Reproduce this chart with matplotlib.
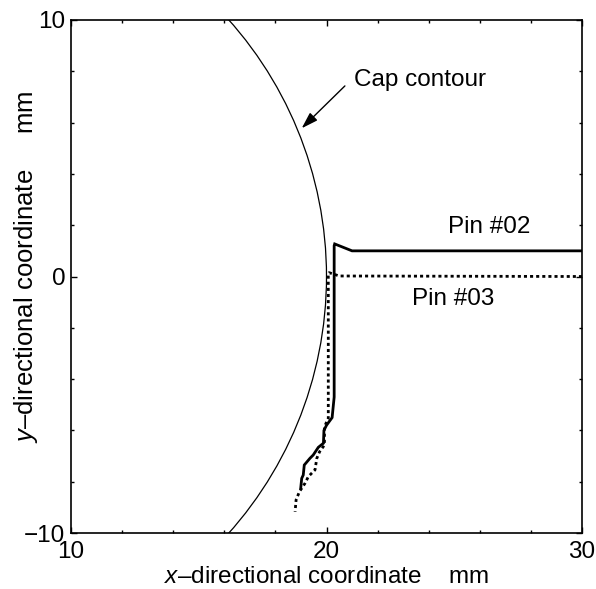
import numpy as np
import matplotlib
matplotlib.use('Agg')
from matplotlib import pyplot as plt
from matplotlib.patches import Circle
from matplotlib.ticker import MultipleLocator

plt.rcParams['font.family'] = 'Liberation Sans'
plt.rcParams['mathtext.fontset'] = 'custom'
plt.rcParams['mathtext.rm'] = 'Liberation Sans'
plt.rcParams['mathtext.it'] = 'Liberation Sans:italic'

# cap contour (circle)
cap_center = (5.0, 0.0)
cap_radius = 15.0

# pin #02 trajectory
pin02_x = [30.0, 21.0, 20.32, 20.3, 20.3, 20.22, 20.0, 19.9, 19.88, 19.68,
           19.48, 19.35, 19.13, 19.09, 19.03, 18.99]
pin02_y = [1.0, 1.0, 1.27, 1.2, -4.7, -5.5, -5.8, -6.0, -6.5, -6.66,
           -6.96, -7.09, -7.35, -7.74, -7.87, -8.26]

# pin #03 trajectory
pin03_x = [30.0, 20.5, 20.1, 20.07, 20.07, 20.01, 19.92, 19.92, 19.73, 19.62,
           19.55, 19.29, 19.16, 18.94, 18.81, 18.77]
pin03_y = [0.0, 0.02, 0.15, 0.1, -5.53, -5.66, -5.86, -6.57, -6.83, -7.09,
           -7.54, -7.80, -8.06, -8.39, -8.71, -9.17]

fs = 17.5
fig = plt.figure(figsize=(5.96, 5.89), dpi=100)
ax = fig.add_axes([71/596, 56/589, 511/596, 513/589])

ax.add_patch(Circle(cap_center, cap_radius, fill=False, lw=0.9, color='k'))
ax.plot(pin02_x, pin02_y, color='k', lw=2.0, solid_joinstyle='miter')
ax.plot(pin03_x, pin03_y, color='k', lw=2.0, linestyle=(0, (1.1, 1.1)),
        dash_capstyle='butt')

ax.annotate('', xy=(19.03, 5.78), xytext=(20.72, 7.43),
            arrowprops=dict(arrowstyle='-|>,head_length=1.0,head_width=0.32',
                            lw=1.0, color='k', shrinkA=0, shrinkB=0))
ax.text(21.08, 7.43, 'Cap contour', fontsize=fs, va='baseline')
ax.text(24.76, 1.71, 'Pin #02', fontsize=fs, va='baseline')
ax.text(23.33, -1.11, 'Pin #03', fontsize=fs, va='baseline')

ax.set_xlim(10, 30)
ax.set_ylim(-10, 10)
ax.xaxis.set_major_locator(MultipleLocator(10))
ax.yaxis.set_major_locator(MultipleLocator(10))
ax.xaxis.set_minor_locator(MultipleLocator(2))
ax.yaxis.set_minor_locator(MultipleLocator(2))
ax.tick_params(which='both', direction='in', top=True, right=True,
               width=1.0, labelsize=fs)
ax.tick_params(which='major', length=4.5)
ax.tick_params(which='minor', length=2.5)
ax.tick_params(axis='x', pad=6)
ax.tick_params(axis='y', pad=4)
ax.set_yticks([-10, 0, 10])
ax.set_yticklabels(['\u221210', '0', '10'])
for s in ax.spines.values():
    s.set_linewidth(1.2)

ax.set_xlabel('$x$\u2013directional coordinate    mm', fontsize=fs, va='baseline')
ax.xaxis.set_label_coords(0.5, -0.0975)
ax.set_ylabel('$y$\u2013directional coordinate     mm', fontsize=18.5, va='baseline')
ax.yaxis.set_label_coords(-0.0734, 0.5195)

fig.savefig('out.png', dpi=100)
